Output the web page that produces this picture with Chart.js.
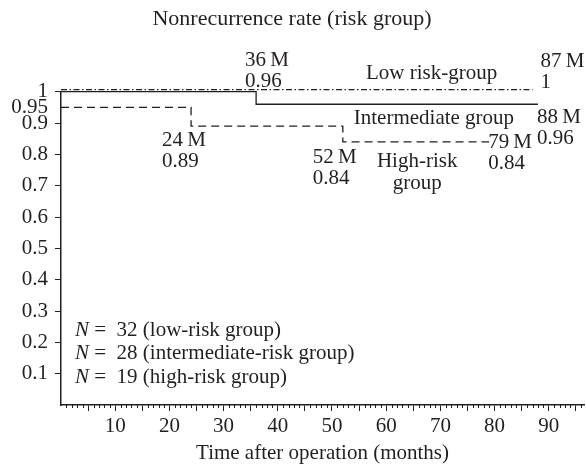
<!DOCTYPE html>
<html><head><meta charset="utf-8">
<script src="https://cdn.jsdelivr.net/npm/chart.js@4"></script>
<style>html,body{margin:0;padding:0;background:#fff}#wrap{width:586px;height:472px}</style>
</head><body><div id="wrap"><canvas id="c" width="586" height="472"></canvas></div>
<script>
// ---- data ----
const lowX = [0, 87];            const lowY = [1, 1];
const intX = [0, 36, 88];        const intY = [1, 0.96, 0.96];
const highX = [0, 24, 52, 79];   const highY = [0.95, 0.89, 0.84, 0.84];
const yTickValues = [0.1, 0.2, 0.3, 0.4, 0.5, 0.6, 0.7, 0.8, 0.9, 0.95, 1];
const xMajorTicks = [5, 10, 15, 20, 25, 30, 35, 40, 45, 50, 55, 60, 65, 70, 75, 80, 85, 90, 95];
const xLabelTicks = [10, 20, 30, 40, 50, 60, 70, 80, 90];
const groupN = [32, 28, 19];
const groupNames = ['low-risk group', 'intermediate-risk group', 'high-risk group'];
const seriesNames = ['Low risk-group', 'Intermediate group', 'High-risk group'];

const INK = '#231f20';
const FONT = "'Liberation Serif', 'Times New Roman', serif";
const FS = 21;
const pts = (xs, ys) => xs.map((x, i) => ({x, y: ys[i]}));
const fmt = v => String(v);

// annotations anchored to data points (offsets in px)
const stepNotes = [
  {x: intX[1],  y: intY[1],  ay: 1,        dx: -11, dy: -31},
  {x: lowX[1],  y: lowY[1],  ay: lowY[1],  dx: 8,   dy: -30},
  {x: intX[2],  y: intY[2],  ay: intY[2],  dx: -1,  dy: 13},
  {x: highX[1], y: highY[1], ay: highY[1], dx: -29, dy: 14},
  {x: highX[2], y: highY[2], ay: highY[2], dx: -30, dy: 16},
  {x: highX[3], y: highY[3], ay: highY[3], dx: -1,  dy: 1}
];
const groupNotes = [
  {x: lowX[1],  y: lowY[1],  dx: -101, dy: -18, lines: ['Low risk-group']},
  {x: intX[2],  y: intY[2],  dx: -104, dy: 14,  lines: ['Intermediate group']},
  {x: highX[3], y: highY[3], dx: -72,  dy: 20,  lines: ['High-risk', 'group']}
];

const annotate = {
  id: 'annotate',
  beforeDatasetDraw(chart, args) {
    if (args.index === 0) { chart.ctx.save(); chart.ctx.translate(0, -2); }
  },
  afterDatasetDraw(chart, args) {
    if (args.index === 0) chart.ctx.restore();
  },
  afterDraw(chart) {
    const {ctx, chartArea} = chart;
    const xs = chart.scales.x, ys = chart.scales.y;
    ctx.save();
    // minor ticks on x axis
    ctx.strokeStyle = INK; ctx.lineWidth = 1;
    for (let v = 1; v <= 96; v++) {
      if (v % 5 === 0) continue;
      const px = Math.round(xs.getPixelForValue(v)) + 0.5;
      ctx.beginPath(); ctx.moveTo(px, chartArea.bottom); ctx.lineTo(px, chartArea.bottom + 3); ctx.stroke();
    }
    ctx.fillStyle = INK;
    ctx.font = FS + 'px ' + FONT;
    ctx.textBaseline = 'middle';
    // step annotations
    ctx.textAlign = 'left';
    stepNotes.forEach(n => {
      const px = xs.getPixelForValue(n.x) + n.dx;
      const py = ys.getPixelForValue(n.ay) + n.dy;
      ctx.fillText(n.x + '\u2009M', px, py);
      ctx.fillText(fmt(n.y), px, py + 21);
    });
    // group labels
    ctx.textAlign = 'center';
    groupNotes.forEach(n => {
      const px = xs.getPixelForValue(n.x) + n.dx;
      const py = ys.getPixelForValue(n.y) + n.dy;
      n.lines.forEach((t, i) => ctx.fillText(t, px, py + i * 22));
    });
    // N = ... notes
    ctx.textAlign = 'left';
    groupN.forEach((n, i) => {
      const px = chartArea.left + 14;
      const py = chartArea.bottom - 75 + i * 23.5;
      ctx.font = 'italic ' + FS + 'px ' + FONT;
      ctx.fillText('N', px, py);
      const w = ctx.measureText('N').width;
      ctx.font = FS + 'px ' + FONT;
      ctx.fillText(' =  ' + n + ' (' + groupNames[i] + ')', px + w, py);
    });
    ctx.restore();
  }
};

const lineDs = (label, xs, ys, dash) => ({
  label, data: pts(xs, ys), showLine: true, stepped: true, pointRadius: 0,
  borderColor: INK, borderWidth: 1.3, borderDash: dash, clip: false, fill: false
});

new Chart(document.getElementById('c'), {
  type: 'scatter',
  data: {
    datasets: [
      lineDs(seriesNames[0], lowX, lowY, [6, 2.5, 1.5, 2.5]),
      lineDs(seriesNames[1], intX, intY, []),
      lineDs(seriesNames[2], highX, highY, [8, 5])
    ]
  },
  options: {
    responsive: false, animation: false, devicePixelRatio: 1,
    layout: {padding: {left: 0, right: 2, top: 0, bottom: 0}},
    plugins: {
      legend: {display: false}, tooltip: {enabled: false},
      title: {display: true, text: 'Nonrecurrence rate (risk group)', color: INK,
              font: {family: FONT, size: 22, weight: 'normal'}, padding: {top: 6, bottom: 59.3}}
    },
    scales: {
      x: {
        type: 'linear', min: 0, max: 96.5, position: 'bottom',
        afterBuildTicks: s => { s.ticks = xMajorTicks.map(v => ({value: v})); },
        afterFit: s => { s.height = 67; },
        grid: {drawOnChartArea: false, drawTicks: true, tickLength: 6, tickColor: INK, tickWidth: 1},
        border: {display: true, color: INK, width: 1.5},
        ticks: {autoSkip: false, maxRotation: 0, color: INK, padding: 3,
                font: {family: FONT, size: FS},
                callback: v => xLabelTicks.includes(v) ? String(v) : ''},
        title: {display: true, text: 'Time after operation (months)', color: INK,
                font: {family: FONT, size: FS}, padding: {top: 0, bottom: 6}}
      },
      y: {
        type: 'linear', min: 0, max: 1, position: 'left',
        afterBuildTicks: s => { s.ticks = yTickValues.map(v => ({value: v})); },
        afterFit: s => { s.width = 61; },
        grid: {drawOnChartArea: false, drawTicks: true, tickLength: 6, tickWidth: 1,
               tickColor: c => (c.tick && c.tick.value === 0.95) ? 'rgba(0,0,0,0)' : INK},
        border: {display: true, color: INK, width: 1.5},
        ticks: {autoSkip: false, color: INK, padding: 7, font: {family: FONT, size: FS},
                callback: v => fmt(v)}
      }
    }
  },
  plugins: [annotate]
});
</script>
</body></html>
